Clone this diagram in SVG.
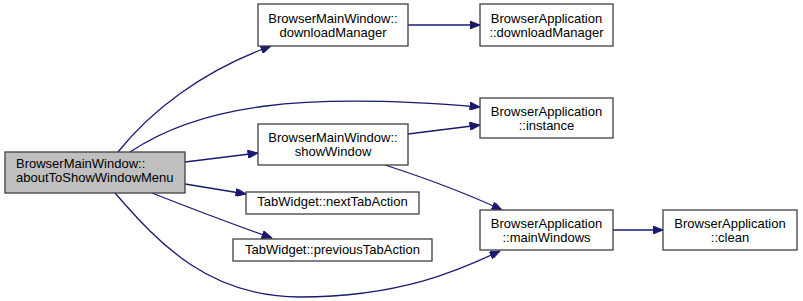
<svg xmlns="http://www.w3.org/2000/svg" width="803" height="301" viewBox="0 0 803 301">
  <style>
    .node rect { fill: #ffffff; stroke: #404040; stroke-width: 1.3; }
    .node.root rect { fill: #bfbfbf; }
    .node text { font-family: "Liberation Sans", Arial, sans-serif; font-size: 13px; fill: #000000; text-anchor: middle; }
    .node.root text { text-anchor: start; }
    .edges path { fill: none; stroke: #191970; stroke-width: 1.3; marker-end: url(#arrow); }
  </style>
  <defs>
    <marker id="arrow" viewBox="0 0 10 8" refX="10" refY="4" markerWidth="11" markerHeight="8" markerUnits="userSpaceOnUse" orient="auto">
      <path d="M0,0 L10,4 L0,8 Z" fill="#191970" stroke="#191970" stroke-width="1"/>
    </marker>
  </defs>
  <rect width="803" height="301" fill="#ffffff"/>

  <g class="edges">
    <!-- aboutToShowWindowMenu -> downloadManager -->
    <path d="M118,152 C150,112 200,72 271,46"/>
    <!-- aboutToShowWindowMenu -> BrowserApplication::instance -->
    <path d="M130,152 C200,105 300,92 480,107"/>
    <!-- aboutToShowWindowMenu -> showWindow -->
    <path d="M185,162 L258,153"/>
    <!-- showWindow -> BrowserApplication::instance -->
    <path d="M408,134 L480,125"/>
    <!-- downloadManager -> BrowserApplication::downloadManager -->
    <path d="M408,25 L480,25"/>
    <!-- aboutToShowWindowMenu -> nextTabAction -->
    <path d="M185,184 L246,194"/>
    <!-- aboutToShowWindowMenu -> previousTabAction -->
    <path d="M152,193 C190,208 235,225 272,238"/>
    <!-- showWindow -> mainWindows -->
    <path d="M385,165 C425,178 470,195 502,210"/>
    <!-- aboutToShowWindowMenu -> mainWindows -->
    <path d="M115,193 C160,245 210,297 300,297 C400,297 460,270 500,251"/>
    <!-- mainWindows -> clean -->
    <path d="M613,230 L663,230"/>
  </g>

  <g id="node-aboutToShowWindowMenu" class="node root">
    <rect x="5" y="152" width="180" height="41"/>
    <text x="16" y="168">BrowserMainWindow::</text>
    <text x="16" y="182">aboutToShowWindowMenu</text>
  </g>
  <g id="node-downloadManager" class="node">
    <rect x="258" y="4" width="150" height="42"/>
    <text x="333" y="22.5">BrowserMainWindow::</text>
    <text x="333" y="36.5">downloadManager</text>
  </g>
  <g id="node-app-downloadManager" class="node">
    <rect x="480" y="4" width="133" height="42"/>
    <text x="546.5" y="22.5">BrowserApplication</text>
    <text x="546.5" y="36.5">::downloadManager</text>
  </g>
  <g id="node-app-instance" class="node">
    <rect x="480" y="98" width="133" height="40"/>
    <text x="546.5" y="116">BrowserApplication</text>
    <text x="546.5" y="130">::instance</text>
  </g>
  <g id="node-showWindow" class="node">
    <rect x="258" y="124" width="150" height="41"/>
    <text x="333" y="142">BrowserMainWindow::</text>
    <text x="333" y="156">showWindow</text>
  </g>
  <g id="node-nextTabAction" class="node">
    <rect x="246" y="192" width="173" height="22"/>
    <text x="332.5" y="206">TabWidget::nextTabAction</text>
  </g>
  <g id="node-previousTabAction" class="node">
    <rect x="233" y="239" width="199" height="22"/>
    <text x="332.5" y="254">TabWidget::previousTabAction</text>
  </g>
  <g id="node-app-mainWindows" class="node">
    <rect x="480" y="210" width="133" height="40"/>
    <text x="546.5" y="228">BrowserApplication</text>
    <text x="546.5" y="242">::mainWindows</text>
  </g>
  <g id="node-app-clean" class="node">
    <rect x="663" y="210" width="134" height="40"/>
    <text x="730" y="228">BrowserApplication</text>
    <text x="730" y="242">::clean</text>
  </g>
</svg>
